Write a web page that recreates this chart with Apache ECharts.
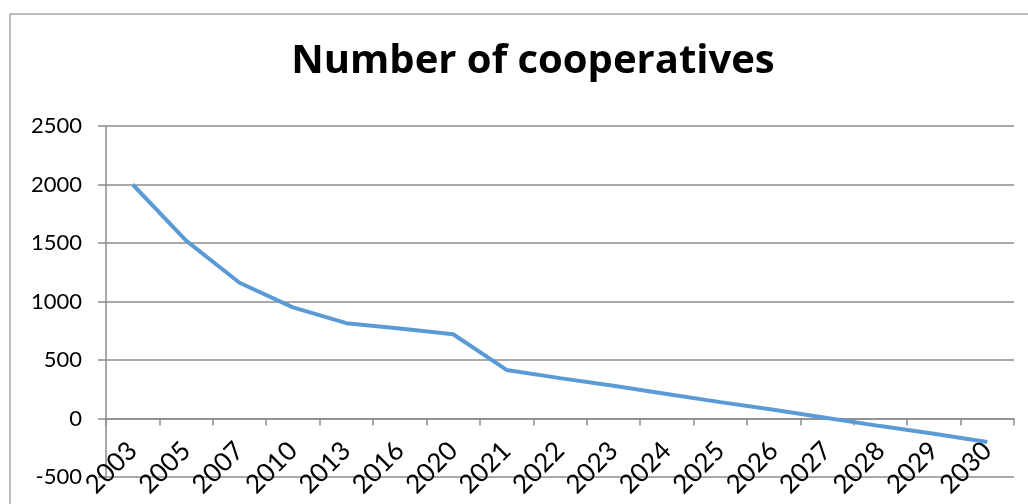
<!DOCTYPE html>
<html>
<head>
<meta charset="UTF-8">
<title>Number of cooperatives</title>
<script src="https://cdn.jsdelivr.net/npm/echarts@6/dist/echarts.min.js"></script>
<style>
  html, body { margin: 0; padding: 0; background: #fff; }
</style>
</head>
<body>
<div id="main" style="width: 1028px;height:504px;"></div>
<script type="text/javascript">
// years on the x axis
var years = ['2003', '2005', '2007', '2010', '2013', '2016', '2020', '2021', '2022',
             '2023', '2024', '2025', '2026', '2027', '2028', '2029', '2030'];
// number of cooperatives
var cooperatives = [2000, 1520, 1160, 950, 815, 770, 720, 415, 345,
                    280, 210, 140, 75, 5, -65, -130, -200];
// y axis range
var yMin = -500, yMax = 2500, yStep = 500;

var font = 'Lato, "Noto Sans", sans-serif';
var myChart = echarts.init(document.getElementById('main'));

var gridTop = 126, gridBottom = 27, chartH = 504;
// x axis sits on the zero line: move it up from the bottom by one step
var zeroOffset = -(chartH - gridTop - gridBottom) * (0 - yMin) / (yMax - yMin);

var option = {
    animation: false,
    title: {
        text: 'Number of cooperatives',
        left: 528,
        top: 37,
        textAlign: 'center',
        textStyle: {
            fontFamily: '"Open Sans", sans-serif',
            fontWeight: 'bold',
            fontSize: 40,
            color: '#000'
        }
    },
    grid: {
        left: 106,
        right: 14,
        top: gridTop,
        bottom: gridBottom,
        containLabel: false,
        outerBoundsMode: 'none'
    },
    xAxis: {
        type: 'category',
        data: years,
        boundaryGap: true,
        position: 'bottom',
        offset: zeroOffset,
        axisLine: { onZero: false, lineStyle: { color: '#8c8c8c', width: 1.5 } },
        axisTick: { show: true, length: 7, lineStyle: { color: '#8c8c8c', width: 1.5 } },
        axisLabel: {
            rotate: 45,
            margin: 28,
            interval: 0,
            hideOverlap: false,
            fontFamily: font,
            fontSize: 26,
            color: '#000'
        }
    },
    yAxis: {
        type: 'value',
        min: yMin,
        max: yMax,
        interval: yStep,
        axisLine: { show: true, lineStyle: { color: '#8c8c8c', width: 1.5 } },
        axisTick: { show: true, length: 8, lineStyle: { color: '#8c8c8c', width: 1.5 } },
        splitLine: { show: true, lineStyle: { color: '#8c8c8c', width: 1.5 } },
        axisLabel: {
            margin: 24,
            fontFamily: font,
            fontSize: 22,
            color: '#000',
            formatter: function (v) { return String(v); }
        }
    },
    series: [{
        type: 'line',
        data: cooperatives,
        showSymbol: false,
        symbol: 'none',
        lineStyle: { color: '#5b9bd5', width: 4 }
    }],
    graphic: [{
        type: 'rect',
        shape: { x: 10, y: 14, width: 1040, height: 520 },
        style: { fill: 'none', stroke: '#a6a6a6', lineWidth: 1.5 },
        silent: true
    }]
};

myChart.setOption(option);
</script>
</body>
</html>
